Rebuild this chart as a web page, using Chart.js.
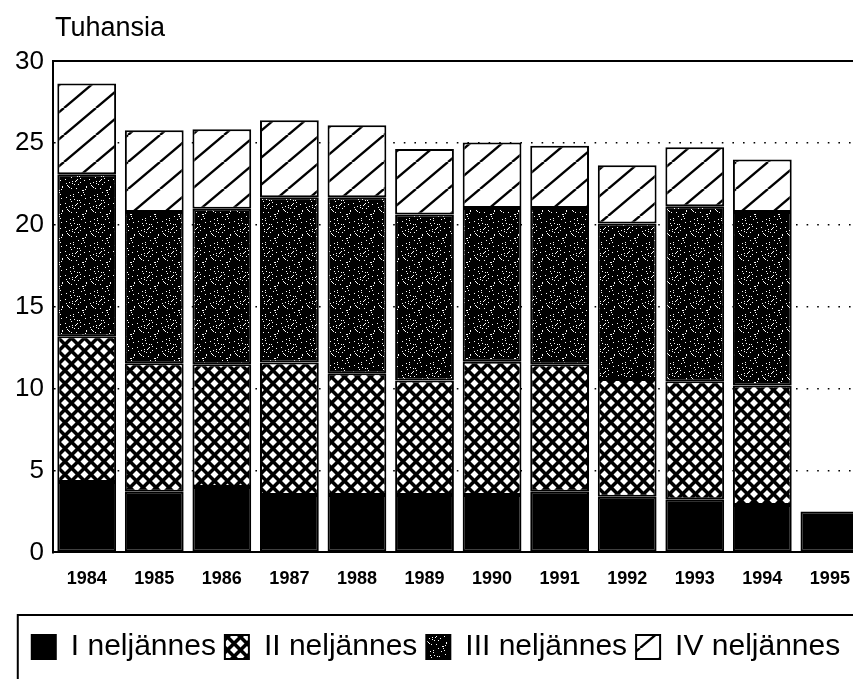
<!DOCTYPE html>
<html>
<head>
<meta charset="utf-8">
<script src="https://cdn.jsdelivr.net/npm/chart.js@4/dist/chart.umd.min.js"></script>
<style>
  html, body { margin: 0; padding: 0; background: #fff; overflow: hidden; }
  #wrap { width: 866px; height: 679px; }
</style>
</head>
<body>
<div id="wrap"><canvas id="quarterChart" width="866" height="679"></canvas></div>
<script>
// data (tuhansia): one segment per quarter
const years = ["1984", "1985", "1986", "1987", "1988", "1989", "1990", "1991", "1992", "1993", "1994", "1995"];
const q1 = [4.3, 3.7, 4.0, 3.5, 3.5, 3.5, 3.5, 3.7, 3.4, 3.25, 2.9, 2.5];
const q2 = [8.9, 7.85, 7.5, 8.1, 7.45, 7.0, 8.15, 7.8, 7.2, 7.2, 7.3, null];
const q3 = [9.9, 9.25, 9.5, 10.1, 10.75, 10.15, 9.4, 9.55, 9.5, 10.7, 10.6, null];
const q4 = [5.55, 5.0, 4.85, 4.7, 4.4, 4.0, 4.0, 3.8, 3.55, 3.6, 3.2, null];
const seriesNames = ["I neljännes", "II neljännes", "III neljännes", "IV neljännes"];
const yTicks = [0, 5, 10, 15, 20, 25, 30];

const FONT = "Arial, 'Liberation Sans', Helvetica, sans-serif";

// fill patterns, like the old b/w print
function tile(w, h, draw) {
  const c = document.createElement("canvas");
  c.width = w; c.height = h;
  const g = c.getContext("2d");
  draw(g, w, h);
  return g.createPattern(c, "repeat");
}

const crossFill = tile(13, 13, (g, w, h) => {
  g.fillStyle = "#000";
  g.fillRect(0, 0, w, h);
  g.fillStyle = "#fff";
  const r = 4.0;
  [[w / 2, h / 2], [0, 0], [w, 0], [0, h], [w, h]].forEach(([cx, cy]) => {
    g.beginPath();
    g.moveTo(cx, cy - r); g.lineTo(cx + r, cy); g.lineTo(cx, cy + r); g.lineTo(cx - r, cy);
    g.closePath();
    g.fill();
  });
});

const stippleFill = tile(24, 24, (g, w, h) => {
  g.fillStyle = "#000";
  g.fillRect(0, 0, w, h);
  g.fillStyle = "#fff";
  for (let y = 0; y < h; y++) {
    for (let x = 0; x < w; x++) {
      const k = (x * 73 + y * 151 + x * y * 17) % 29;
      if (k === 3 || k === 20) g.fillRect(x, y, 1, 1);
    }
  }
});

const hatchFill = tile(32, 27, (g, w, h) => {
  g.fillStyle = "#fff";
  g.fillRect(0, 0, w, h);
  g.strokeStyle = "#000";
  g.lineWidth = 2.4;
  [-w, 0, w].forEach(dx => {
    g.beginPath();
    g.moveTo(dx, h);
    g.lineTo(dx + w, 0);
    g.stroke();
  });
});

// draw a frame round the legend, open at the right like the cropped original
const legendFrame = {
  id: "legendFrame",
  afterDraw(chart) {
    const lg = chart.legend;
    if (!lg || !lg.legendHitBoxes.length) return;
    const first = lg.legendHitBoxes[0];
    const ctx = chart.ctx;
    ctx.save();
    ctx.strokeStyle = "#000";
    ctx.lineWidth = 2;
    ctx.strokeRect(first.left - 14, first.top - 17, chart.width + 40, chart.height);
    ctx.restore();
  }
};

// put the unit title right over the value axis
const titleOverAxis = {
  id: "titleOverAxis",
  afterLayout(chart) {
    chart.titleBlock.left = chart.chartArea.left + 2;
  }
};

function series(label, data, fill) {
  return {
    label: label,
    data: data,
    backgroundColor: fill,
    borderColor: "#000",
    borderWidth: 2,
    borderSkipped: false,
    barPercentage: 0.87,
    categoryPercentage: 1.0
  };
}

const ctx = document.getElementById("quarterChart").getContext("2d");
const chart = new Chart(ctx, {
  type: "bar",
  data: {
    labels: years,
    datasets: [
      series(seriesNames[0], q1, "#000"),
      series(seriesNames[1], q2, crossFill),
      series(seriesNames[2], q3, stippleFill),
      series(seriesNames[3], q4, hatchFill)
    ]
  },
  plugins: [legendFrame, titleOverAxis],
  options: {
    responsive: false,
    animation: false,
    devicePixelRatio: 1,
    layout: { padding: { left: 6, right: 0, top: 0, bottom: 7 } },
    plugins: {
      title: {
        display: true,
        text: "Tuhansia",
        align: "start",
        color: "#000",
        font: { family: FONT, size: 27, weight: "normal" },
        padding: { top: 12, bottom: 17 }
      },
      legend: {
        position: "bottom",
        labels: {
          color: "#000",
          font: { family: FONT, size: 30 },
          boxWidth: 24,
          boxHeight: 24,
          padding: 9
        }
      },
      tooltip: { enabled: false }
    },
    scales: {
      x: {
        stacked: true,
        grid: { display: false, drawTicks: false },
        border: { display: true, color: "#000", width: 2 },
        ticks: { color: "#000", font: { family: FONT, size: 18, weight: "bold" }, padding: 16 },
        afterFit(scale) { scale.height += 17; }
      },
      xTop: {
        type: "category",
        position: "top",
        labels: years,
        grid: { display: false, drawTicks: false },
        border: { display: true, color: "#000", width: 2 },
        ticks: { display: false }
      },
      y: {
        stacked: true,
        min: yTicks[0],
        max: yTicks[yTicks.length - 1],
        afterBuildTicks(scale) {
          scale.ticks = yTicks.map(v => ({ value: v }));
        },
        grid: {
          drawTicks: false,
          lineWidth: 1.6,
          color: c => (c.tick && c.tick.value > 0 && c.tick.value < 30) ? "#000" : "rgba(0,0,0,0)"
        },
        border: { display: true, color: "#000", width: 2, dash: [1.6, 9] },
        ticks: { color: "#000", font: { family: FONT, size: 26 }, padding: 9 }
      }
    }
  }
});
</script>
</body>
</html>
